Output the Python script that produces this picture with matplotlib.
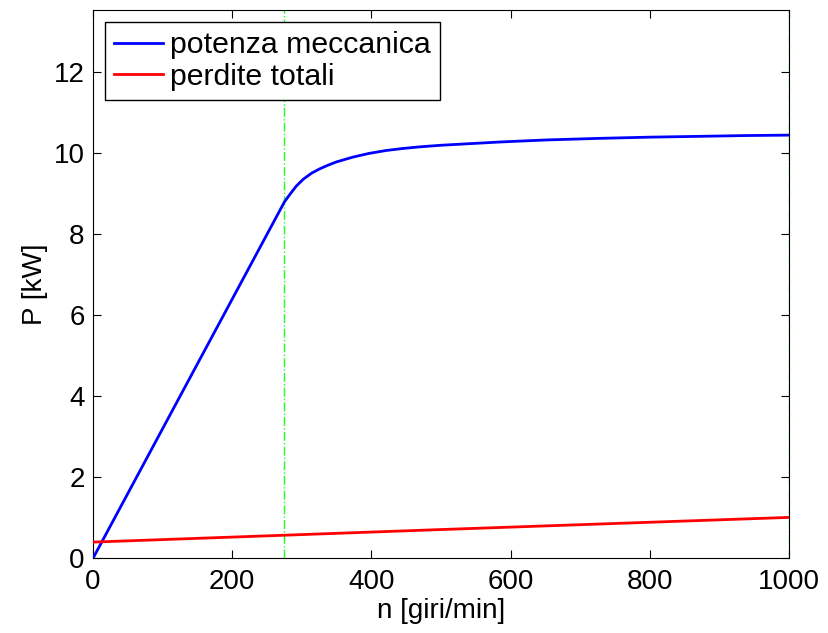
import matplotlib.pyplot as plt

plt.rcParams['font.family'] = ['Liberation Sans', 'DejaVu Sans']

# potenza meccanica (blue)
n_mecc = [0, 275, 283, 292, 302, 314, 326, 338, 350, 374, 397, 421, 445, 469, 500, 584, 650, 727, 800, 871, 940, 1000]
p_mecc = [0, 8.8, 8.99, 9.19, 9.36, 9.51, 9.62, 9.71, 9.79, 9.91, 10.0, 10.07, 10.12, 10.16, 10.2, 10.28, 10.33, 10.37, 10.4, 10.42, 10.44, 10.45]

# perdite totali (red)
n_perd = [0, 275, 500, 750, 1000]
p_perd = [0.40, 0.57, 0.71, 0.86, 1.01]

# vertical limits (green dash-dot)
n_lim = [275, 1000]

fig = plt.figure(figsize=(8.29, 6.33), dpi=100)
ax = fig.add_axes([93/829, 1 - 558.3/633, (789-93)/829, (558.3-10)/633])

for x in n_lim:
    ax.axvline(x, color='#22ff22', linestyle='-.', linewidth=1.0, zorder=1)
ax.plot(n_mecc, p_mecc, color='blue', linewidth=2, label='potenza meccanica', zorder=3)
ax.plot(n_perd, p_perd, color='red', linewidth=2, label='perdite totali', zorder=3)

ax.set_xlim(0, 1000)
ax.set_ylim(0, 13.54)
ax.set_xticks([0, 200, 400, 600, 800, 1000])
ax.set_yticks([0, 2, 4, 6, 8, 10, 12])
ax.tick_params(direction='in', top=True, right=True, labelsize=20, length=6)
ax.tick_params(axis='x', pad=8)
ax.tick_params(axis='y', pad=6)
ax.set_xlabel('n [giri/min]', fontsize=20, labelpad=2)
ax.set_ylabel('P [kW]', fontsize=20, labelpad=4)

leg = ax.legend(loc='upper left', fontsize=21.8, fancybox=False, edgecolor='black',
                framealpha=1, handlelength=1.6, handletextpad=0.25,
                borderaxespad=0.4, labelspacing=0.12, borderpad=0.3)
leg.get_frame().set_linewidth(1)

plt.savefig('out.png', dpi=100)
